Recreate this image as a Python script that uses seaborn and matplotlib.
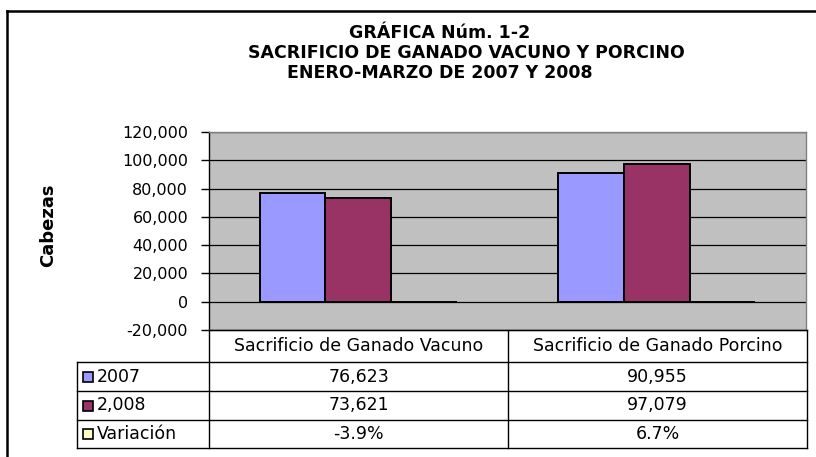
import matplotlib
matplotlib.use("Agg")
import matplotlib.pyplot as plt
from matplotlib.lines import Line2D
from matplotlib.patches import Rectangle
import seaborn as sns
import pandas as pd

# ---- data ----
categories = ["Sacrificio de Ganado Vacuno", "Sacrificio de Ganado Porcino"]
series_names = ["2007", "2,008", "Variación"]
values_2007 = [76623, 90955]
values_2008 = [73621, 97079]
variacion_pct = [-3.9, 6.7]
title_lines = ["GRÁFICA Núm. 1-2",
               "SACRIFICIO DE GANADO VACUNO Y PORCINO",
               "ENERO-MARZO DE 2007 Y 2008"]
y_label = "Cabezas"
y_ticks = [-20000, 0, 20000, 40000, 60000, 80000, 100000, 120000]
colors = ["#9999FF", "#993366", "#FFFFCC"]

rows = []
for i, c in enumerate(categories):
    rows.append({"cat": c, "serie": series_names[0], "val": values_2007[i]})
    rows.append({"cat": c, "serie": series_names[1], "val": values_2008[i]})
    rows.append({"cat": c, "serie": series_names[2], "val": variacion_pct[i] / 100.0})
df = pd.DataFrame(rows)

W, H = 816, 457
plt.rcParams["font.family"] = ["DejaVu Sans"]
fig = plt.figure(figsize=(W / 100, H / 100), dpi=100)
fig.patch.set_facecolor("white")

def fx(x):
    return x / W

def fy(y):
    return 1 - y / H

L, R, T, B = 209, 806, 132, 330
ax = fig.add_axes([fx(L), fy(B), fx(R) - fx(L), fy(T) - fy(B)])
ax.set_facecolor("#C0C0C0")
ax.set_axisbelow(True)
ax.yaxis.grid(True, color="black", linewidth=0.9)

sns.barplot(data=df, x="cat", y="val", hue="serie", hue_order=series_names,
            order=categories, palette=colors, width=0.66, edgecolor="black",
            linewidth=1.4, legend=False, ax=ax, saturation=1)

ax.set_xlim(-0.5, 1.5)
ax.set_ylim(y_ticks[0], y_ticks[-1])
ax.set_yticks(y_ticks)
ax.set_yticklabels([f"{t:,}" for t in y_ticks], fontsize=11.5)
ax.tick_params(axis="y", direction="out", length=6, width=1, color="black", pad=9)
ax.set_xticks([])
ax.set_xlabel("")
ax.set_ylabel("")
for s in ["top", "right", "bottom"]:
    ax.spines[s].set_color("#808080")
    ax.spines[s].set_linewidth(1)
ax.spines["left"].set_color("black")
ax.spines["left"].set_linewidth(1)

# ---- title ----
title_pos = [(440, 33), (466, 53), (440, 73)]
for txt, (x, y) in zip(title_lines, title_pos):
    fig.text(fx(x), fy(y), txt, ha="center", va="center", fontsize=12.5,
             fontweight="bold")

fig.text(fx(48), fy(225), y_label, rotation=90, ha="center", va="center",
         fontsize=13, fontweight="bold")

# ---- data table ----
def hline(x0, x1, y, lw=1.0, color="black"):
    fig.add_artist(Line2D([fx(x0), fx(x1)], [fy(y), fy(y)], color=color, lw=lw,
                          transform=fig.transFigure))

def vline(x, y0, y1, lw=1.0, color="black"):
    fig.add_artist(Line2D([fx(x), fx(x)], [fy(y0), fy(y1)], color=color, lw=lw,
                          transform=fig.transFigure))

col_x = [209, 508, 807]
row_y = [330, 362, 391, 420, 448]
hline(209, 807, 330)
for y in row_y[1:]:
    hline(77, 807, y)
vline(77, 362, 448)
for x in col_x:
    vline(x, 330, 448)

fs_tab = 12.5
for j, c in enumerate(categories):
    cx = (col_x[j] + col_x[j + 1]) / 2
    fig.text(fx(cx), fy((row_y[0] + row_y[1]) / 2), c, ha="center", va="center",
             fontsize=fs_tab)

cell_texts = [
    [f"{v:,}" for v in values_2007],
    [f"{v:,}" for v in values_2008],
    [f"{v:.1f}%" for v in variacion_pct],
]
for i, name in enumerate(series_names):
    cy = (row_y[i + 1] + row_y[i + 2]) / 2
    fig.add_artist(Rectangle((fx(83), fy(cy + 5)), fx(10), 10 / H,
                             facecolor=colors[i], edgecolor="black", lw=1.2,
                             transform=fig.transFigure))
    fig.text(fx(97), fy(cy), name, ha="left", va="center", fontsize=fs_tab)
    for j in range(len(categories)):
        cx = (col_x[j] + col_x[j + 1]) / 2
        fig.text(fx(cx), fy(cy), cell_texts[i][j], ha="center", va="center",
                 fontsize=fs_tab)

# ---- outer frame (top and left visible) ----
hline(7, 816, 11, lw=1.8)
vline(7, 11, 457, lw=1.8)

fig.savefig("out.png", dpi=100)
